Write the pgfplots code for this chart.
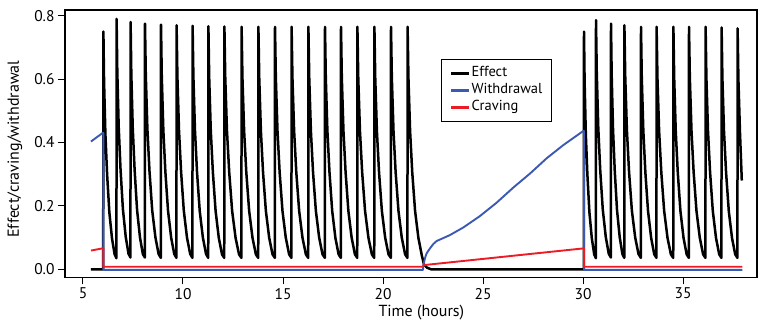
\documentclass[border=0pt]{standalone}
\usepackage{pgfplots}
\pgfplotsset{compat=1.18}
\usepackage{fontspec}
\setmainfont{PT Sans}
\definecolor{wblue}{RGB}{59,89,178}
\definecolor{cred}{RGB}{236,28,36}
\begin{document}
\begin{tikzpicture}
\begin{axis}[
  scale only axis, width=692pt, height=267.5pt,
  xmin=4.1, xmax=38.7, ymin=-0.026, ymax=0.818,
  xtick={5,10,15,20,25,30,35}, ytick={0,0.2,0.4,0.6,0.8},
  tick align=outside, tick pos=left, major tick length=7pt,
  axis line style={line width=1.4pt},
  tick style={line width=1pt, black},
  /pgf/number format/assume math mode=true,
  yticklabel style={/pgf/number format/.cd, fixed, fixed zerofill, precision=1},
  ticklabel style={font=\fontsize{15.5}{17}\selectfont},
  xlabel={Time (hours)}, ylabel={Effect/craving/withdrawal},
  label style={font=\fontsize{16}{18}\selectfont},
  xlabel style={at={(axis description cs:0.515,-0.131)}, anchor=center},
  ylabel style={at={(axis description cs:-0.0723,0.48)}, anchor=center},
  legend style={at={(axis description cs:0.544,0.817)}, anchor=north west,
    draw=black, line width=0.8pt, font=\fontsize{14.5}{16}\selectfont,
    inner xsep=8pt, inner ysep=7.5pt, row sep=3.5pt,
    nodes={inner sep=1pt, text height=9pt, text depth=2.5pt}},
  legend cell align=left,
  legend image code/.code={\draw[#1, line width=2.8pt] (0pt,0pt) -- (18pt,0pt);},
]
\addplot[black, line width=2.5pt, line join=round] coordinates {
(5.40,0) (6.01,0)
(6.02,0.75) (6.053,0.593) (6.119,0.428) (6.205,0.30) (6.317,0.18) (6.449,0.098) (6.581,0.047) (6.673,0.035)
(6.68,0.79) (6.715,0.624) (6.785,0.45) (6.876,0.316) (6.995,0.19) (7.135,0.103) (7.275,0.049) (7.373,0.037)
(7.38,0.78) (7.416,0.616) (7.488,0.445) (7.582,0.312) (7.704,0.187) (7.848,0.101) (7.992,0.048) (8.093,0.037)
(8.10,0.775) (8.14,0.612) (8.22,0.442) (8.324,0.31) (8.46,0.186) (8.62,0.101) (8.78,0.048) (8.892,0.036)
(8.90,0.772) (8.939,0.608) (9.017,0.439) (9.118,0.308) (9.251,0.185) (9.407,0.10) (9.563,0.048) (9.672,0.036)
(9.68,0.77) (9.72,0.608) (9.80,0.439) (9.904,0.308) (10.04,0.185) (10.20,0.10) (10.36,0.048) (10.472,0.036)
(10.48,0.768) (10.52,0.607) (10.599,0.438) (10.701,0.307) (10.836,0.184) (10.994,0.10) (11.152,0.048) (11.262,0.036)
(11.27,0.767) (11.31,0.604) (11.39,0.436) (11.494,0.306) (11.63,0.184) (11.79,0.099) (11.95,0.047) (12.062,0.036)
(12.07,0.766) (12.113,0.604) (12.199,0.436) (12.311,0.306) (12.457,0.184) (12.629,0.099) (12.801,0.047) (12.921,0.036)
(12.93,0.765) (12.972,0.604) (13.056,0.436) (13.165,0.306) (13.308,0.184) (13.476,0.099) (13.644,0.047) (13.762,0.036)
(13.77,0.765) (13.812,0.604) (13.895,0.436) (14.002,0.306) (14.144,0.184) (14.31,0.099) (14.476,0.047) (14.592,0.036)
(14.60,0.765) (14.642,0.604) (14.725,0.436) (14.832,0.306) (14.974,0.184) (15.14,0.099) (15.306,0.047) (15.422,0.036)
(15.43,0.765) (15.472,0.604) (15.556,0.436) (15.665,0.306) (15.808,0.184) (15.976,0.099) (16.144,0.047) (16.262,0.036)
(16.27,0.765) (16.312,0.604) (16.395,0.436) (16.502,0.306) (16.644,0.184) (16.81,0.099) (16.976,0.047) (17.092,0.036)
(17.10,0.765) (17.14,0.604) (17.22,0.436) (17.324,0.306) (17.46,0.184) (17.62,0.099) (17.78,0.047) (17.892,0.036)
(17.90,0.765) (17.941,0.604) (18.023,0.436) (18.13,0.306) (18.269,0.184) (18.433,0.099) (18.597,0.047) (18.712,0.036)
(18.72,0.765) (18.763,0.604) (18.848,0.436) (18.958,0.306) (19.103,0.184) (19.273,0.099) (19.443,0.047) (19.562,0.036)
(19.57,0.765) (19.612,0.604) (19.695,0.436) (19.802,0.306) (19.944,0.184) (20.11,0.099) (20.276,0.047) (20.392,0.036)
(20.40,0.765) (20.442,0.604) (20.525,0.436) (20.632,0.306) (20.774,0.184) (20.94,0.099) (21.106,0.047) (21.222,0.036)
(21.23,0.765) (21.272,0.604) (21.355,0.436) (21.462,0.306) (21.604,0.184) (21.77,0.099) (21.936,0.045) (22.05,0.015) (22.2,0.005) (22.4,0) (30.04,0)
(30.05,0.75) (30.08,0.593) (30.14,0.428) (30.218,0.30) (30.32,0.18) (30.44,0.098) (30.56,0.047) (30.644,0.035)
(30.65,0.786) (30.688,0.621) (30.763,0.448) (30.86,0.314) (30.988,0.189) (31.138,0.102) (31.288,0.049) (31.393,0.037)
(31.40,0.775) (31.434,0.612) (31.501,0.442) (31.588,0.31) (31.702,0.186) (31.836,0.101) (31.97,0.048) (32.063,0.036)
(32.07,0.77) (32.112,0.608) (32.195,0.439) (32.302,0.308) (32.444,0.185) (32.61,0.10) (32.776,0.048) (32.892,0.036)
(32.90,0.765) (32.939,0.604) (33.017,0.436) (33.118,0.306) (33.251,0.184) (33.407,0.099) (33.563,0.047) (33.672,0.036)
(33.68,0.765) (33.722,0.604) (33.806,0.436) (33.915,0.306) (34.058,0.184) (34.226,0.099) (34.394,0.047) (34.512,0.036)
(34.52,0.765) (34.559,0.604) (34.637,0.436) (34.738,0.306) (34.871,0.184) (35.027,0.099) (35.183,0.047) (35.292,0.036)
(35.30,0.765) (35.342,0.604) (35.425,0.436) (35.532,0.306) (35.674,0.184) (35.84,0.099) (36.006,0.047) (36.122,0.036)
(36.13,0.765) (36.17,0.604) (36.25,0.436) (36.354,0.306) (36.49,0.184) (36.65,0.099) (36.81,0.047) (36.922,0.036)
(36.93,0.763) (36.97,0.603) (37.05,0.435) (37.154,0.305) (37.29,0.183) (37.45,0.099) (37.61,0.047) (37.722,0.036)
(37.73,0.76) (37.77,0.60) (37.85,0.43) (37.94,0.28)
};
\addlegendentry{Effect}
\addplot[wblue, line width=1.9pt, line join=round] coordinates {
(5.40,0.403) (5.98,0.43) (6.02,0.43) (6.02,-0.002) (22.0,-0.002)
(22.02,0.013) (22.1,0.035) (22.18,0.05) (22.35,0.066) (22.52,0.08) (22.68,0.089) (23.0,0.098)
(23.35,0.108) (24.02,0.132) (24.85,0.168) (25.68,0.21) (26.52,0.258) (27.35,0.302)
(28.18,0.35) (29.02,0.392) (30.03,0.437) (30.05,0.437) (30.05,-0.002) (37.97,-0.002)
};
\addlegendentry{Withdrawal}
\addplot[cred, line width=1.9pt, line join=round] coordinates {
(5.40,0.059) (5.98,0.066) (6.02,0.066) (6.02,0.008) (22.0,0.008)
(22.02,0.013) (30.05,0.066) (30.05,0.008) (37.97,0.008)
};
\addlegendentry{Craving}
\end{axis}
\path (current axis.south west) ++(-65pt,-51.5pt) rectangle ++(758pt,329pt);
\end{tikzpicture}
\end{document}
